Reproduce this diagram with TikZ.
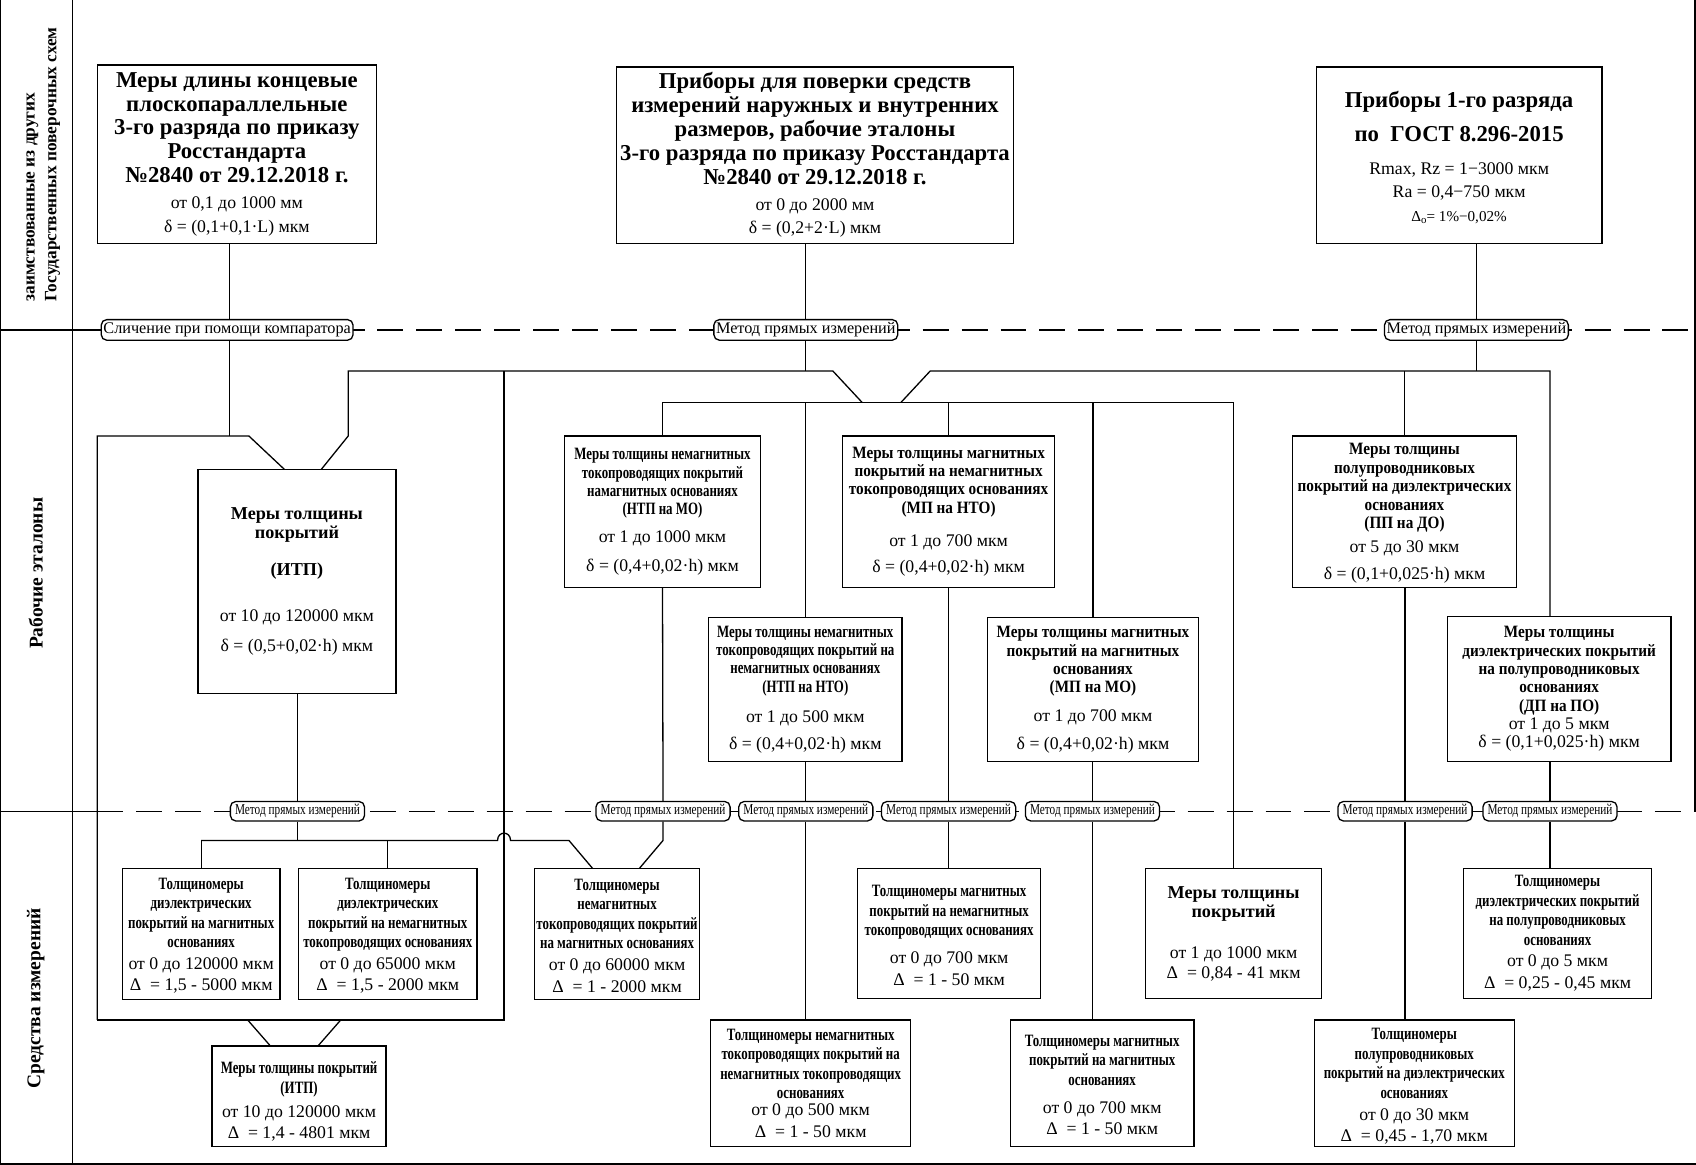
\documentclass[tikz,border=0pt]{standalone}
\usepackage{fontspec}
\setmainfont{Liberation Serif}
\newfontfamily\condf[FakeStretch=0.82]{Liberation Serif}
\newfontfamily\cnA[FakeStretch=0.745]{Liberation Serif}
\newfontfamily\cnB[FakeStretch=0.88]{Liberation Serif}
\newcommand\xHA[1]{{\bfseries\fontsize{10.5}{11}\selectfont #1}}
\newcommand\xNA[1]{{\fontsize{8.2}{11}\selectfont #1}}
\newcommand\xHM[1]{{\bfseries\fontsize{8.4}{10}\selectfont #1}}
\newcommand\xHS[1]{{\cnB\bfseries\fontsize{8}{9}\selectfont #1}}
\newcommand\xHN[1]{{\cnA\bfseries\fontsize{8}{9}\selectfont #1}}
\newcommand\xNS[1]{{\fontsize{8.2}{9}\selectfont #1}}
\begin{document}
\begin{tikzpicture}[x=0.5pt,y=-0.5pt,line width=0.6pt,
  box/.style={draw, inner sep=0pt},
  txt/.style={inner sep=0pt, align=center},
  lbl/.style={draw, fill=white, rounded corners=2.5pt, inner xsep=1pt, inner ysep=0pt, minimum height=9.5pt, font=\fontsize{7.5}{8}\selectfont},
  lbls/.style={lbl, minimum width=62pt, minimum height=9pt, font=\cnA\fontsize{7}{8}\selectfont},
  dsh/.style={dash pattern=on 12pt off 6pt},
  side/.style={rotate=90, font=\bfseries\fontsize{9}{10}\selectfont, align=left}]
\useasboundingbox (0,0) rectangle (1568,1077);
% frame
\draw (0.6,0) -- (0.6,1076) -- (1568,1076);
\draw (67,0) -- (67,1076);
\draw (1567,0) -- (1567,750);
\draw (0,305) -- (97,305);
\draw[dsh] (97,305) -- (1568,305);
\draw (0,750) -- (90,750);
\draw[dsh] (90,750) -- (1568,750);
% side titles
\node[side, font=\bfseries\fontsize{8}{10}\selectfont] (V1) at (40,152) {заимствованные из других\\Государственных поверочных схем};
\node[side] (V2) at (33,530) {Рабочие эталоны};
\node[side] (V3) at (33,923) {Средства измерений};
% top boxes
\node[box, minimum width=129pt, minimum height=82.5pt] (A) at (219,142.5) {};
\node[txt, font=\fontsize{10}{11}\selectfont] (At) at (A.center) {\xHA{Меры длины концевые}\\\xHA{плоскопараллельные}\\\xHA{3-го разряда по приказу}\\\xHA{Росстандарта}\\\xHA{№2840 от 29.12.2018 г.}\\[1pt]\xNA{от 0,1 до 1000 мм}\\\xNA{δ = (0,1+0,1·L) мкм}};
\node[box, minimum width=183.5pt, minimum height=81.5pt] (B) at (753.5,143.5) {};
\node[txt, font=\fontsize{10}{11}\selectfont] (Bt) at (B.center) {\xHA{Приборы для поверки средств}\\\xHA{измерений наружных и внутренних}\\\xHA{размеров, рабочие эталоны}\\\xHA{3-го разряда по приказу Росстандарта}\\\xHA{№2840 от 29.12.2018 г.}\\[1pt]\xNA{от 0 до 2000 мм}\\\xNA{δ = (0,2+2·L) мкм}};
\node[box, minimum width=132pt, minimum height=81.5pt] (C) at (1349,143.5) {};
\node[txt, font=\fontsize{10}{11}\selectfont] (Ct) at ([yshift=-1pt]C.center) {\xHA{Приборы 1-го разряда}\\[5pt]\xHA{по\ \ ГОСТ 8.296-2015}\\[4pt]\xNA{Rmax, Rz = 1−3000 мкм}\\\xNA{Ra = 0,4−750 мкм}\\{\fontsize{7}{8}\selectfont Δ\raisebox{-0.3ex}{\fontsize{5}{6}\selectfont o}= 1\%−0,02\%}};
% middle boxes
\node[box, minimum width=91.5pt, minimum height=103.5pt] (ITP) at (274.5,537.5) {};
\node[txt, font=\fontsize{9}{9}\selectfont] (ITPt) at (ITP.center) {\xHM{Меры толщины}\\\xHM{покрытий}\\[8pt]\xHM{(ИТП)}\\[12pt]\xNS{от 10 до 120000 мкм}\\[5pt]\xNS{δ = (0,5+0,02·h) мкм}};
\node[box, minimum width=90.5pt, minimum height=70pt] (NM) at (612.5,473) {};
\node[txt, font=\fontsize{8}{8.5}\selectfont] (NMt) at (NM.center) {\xHN{Меры толщины немагнитных}\\\xHN{токопроводящих покрытий}\\\xHN{намагнитных основаниях}\\\xHN{(НТП на МО)}\\[4.5pt]\xNS{от 1 до 1000 мкм}\\[4.5pt]\xNS{δ = (0,4+0,02·h) мкм}};
\node[box, minimum width=98pt, minimum height=70pt] (MN) at (877,473) {};
\node[txt, font=\fontsize{8}{8.5}\selectfont] (MNt) at (MN.center) {\xHS{Меры толщины магнитных}\\\xHS{покрытий на немагнитных}\\\xHS{токопроводящих основаниях}\\\xHS{(МП на НТО)}\\[7pt]\xNS{от 1 до 700 мкм}\\[3.5pt]\xNS{δ = (0,4+0,02·h) мкм}};
\node[box, minimum width=89.5pt, minimum height=66.5pt] (NN) at (744.5,637.5) {};
\node[txt, font=\fontsize{8}{8.5}\selectfont] (NNt) at (NN.center) {\xHN{Меры толщины немагнитных}\\\xHN{токопроводящих покрытий на}\\\xHN{немагнитных основаниях}\\\xHN{(НТП на НТО)}\\[5.5pt]\xNS{от 1 до 500 мкм}\\[4pt]\xNS{δ = (0,4+0,02·h) мкм}};
\node[box, minimum width=97.5pt, minimum height=66.5pt] (MM) at (1010.5,637.5) {};
\node[txt, font=\fontsize{8}{8.5}\selectfont] (MMt) at (MM.center) {\xHS{Меры толщины магнитных}\\\xHS{покрытий на магнитных}\\\xHS{основаниях}\\\xHS{(МП на МО)}\\[5pt]\xNS{от 1 до 700 мкм}\\[4pt]\xNS{δ = (0,4+0,02·h) мкм}};
\node[box, minimum width=103.5pt, minimum height=70pt] (PD) at (1298.5,473) {};
\node[txt, font=\fontsize{8}{8.5}\selectfont] (PDt) at ([yshift=-0.8pt]PD.center) {\xHS{Меры толщины}\\\xHS{полупроводниковых}\\\xHS{покрытий на диэлектрических}\\\xHS{основаниях}\\\xHS{(ПП на ДО)}\\[2.5pt]\xNS{от 5 до 30 мкм}\\[4pt]\xNS{δ = (0,1+0,025·h) мкм}};
\node[box, minimum width=103.5pt, minimum height=67pt] (DP) at (1441.5,637) {};
\node[txt, font=\fontsize{8}{8.5}\selectfont] (DPt) at (DP.center) {\xHS{Меры толщины}\\\xHS{диэлектрических покрытий}\\\xHS{на полупроводниковых}\\\xHS{основаниях}\\\xHS{(ДП на ПО)}\\\xNS{от 1 до 5 мкм}\\\xNS{δ = (0,1+0,025·h) мкм}};
% bottom boxes
\node[box, minimum width=73pt, minimum height=60.5pt] (T1) at (186,863.5) {};
\node[txt, font=\fontsize{8}{9}\selectfont] (T1t) at ([yshift=-0.8pt]T1.center) {\xHN{Толщиномеры}\\\xHN{диэлектрических}\\\xHN{покрытий на магнитных}\\\xHN{основаниях}\\[1pt]\xNS{от 0 до 120000 мкм}\\[1pt]\xNS{Δ\ \ = 1,5 - 5000 мкм}};
\node[box, minimum width=82.5pt, minimum height=60.5pt] (T2) at (358.5,863.5) {};
\node[txt, font=\fontsize{8}{9}\selectfont] (T2t) at ([yshift=-0.8pt]T2.center) {\xHN{Толщиномеры}\\\xHN{диэлектрических}\\\xHN{покрытий на немагнитных}\\\xHN{токопроводящих основаниях}\\[1pt]\xNS{от 0 до 65000 мкм}\\[1pt]\xNS{Δ\ \ = 1,5 - 2000 мкм}};
\node[box, minimum width=76.5pt, minimum height=60.5pt] (T3) at (570.5,863.5) {};
\node[txt, font=\fontsize{8}{9}\selectfont] (T3t) at ([yshift=-0.8pt]T3.center) {\xHN{Толщиномеры}\\\xHN{немагнитных}\\\xHN{токопроводящих покрытий}\\\xHN{на магнитных основаниях}\\[1pt]\xNS{от 0 до 60000 мкм}\\[1pt]\xNS{Δ\ \ = 1 - 2000 мкм}};
\node[box, minimum width=80.5pt, minimum height=46.5pt] (IB) at (276.5,1013.5) {};
\node[txt, font=\fontsize{8}{9}\selectfont] (IBt) at ([yshift=-2.5pt]IB.center) {\xHN{Меры толщины покрытий}\\\xHN{(ИТП)}\\[2pt]\xNS{от 10 до 120000 мкм}\\[1pt]\xNS{Δ\ \ = 1,4 - 4801 мкм}};
\node[box, minimum width=92.5pt, minimum height=58.5pt] (T5) at (749.5,1001.5) {};
\node[txt, font=\fontsize{8}{9}\selectfont] (T5t) at (T5.center) {\xHN{Толщиномеры немагнитных}\\\xHN{токопроводящих покрытий на}\\\xHN{немагнитных токопроводящих}\\\xHN{основаниях}\\[-1pt]\xNS{от 0 до 500 мкм}\\[1pt]\xNS{Δ\ \ = 1 - 50 мкм}};
\node[box, minimum width=84.5pt, minimum height=60pt] (T6) at (877.5,863) {};
\node[txt, font=\fontsize{8}{9}\selectfont] (T6t) at ([yshift=-1pt]T6.center) {\xHN{Толщиномеры магнитных}\\\xHN{покрытий на немагнитных}\\\xHN{токопроводящих основаниях}\\[4pt]\xNS{от 0 до 700 мкм}\\[1pt]\xNS{Δ\ \ = 1 - 50 мкм}};
\node[box, minimum width=85pt, minimum height=58.5pt] (T7) at (1019,1001.5) {};
\node[txt, font=\fontsize{8}{9}\selectfont] (T7t) at ([yshift=-0.8pt]T7.center) {\xHN{Толщиномеры магнитных}\\\xHN{покрытий на магнитных}\\\xHN{основаниях}\\[4pt]\xNS{от 0 до 700 мкм}\\[1pt]\xNS{Δ\ \ = 1 - 50 мкм}};
\node[box, minimum width=81.5pt, minimum height=60pt] (T8) at (1140.5,863) {};
\node[txt, font=\fontsize{9}{9}\selectfont] (T8t) at (T8.center) {\xHM{Меры толщины}\\\xHM{покрытий}\\[10pt]\xNS{от 1 до 1000 мкм}\\\xNS{Δ\ \ = 0,84 - 41 мкм}};
\node[box, minimum width=92.5pt, minimum height=58.5pt] (T9) at (1307.5,1001.5) {};
\node[txt, font=\fontsize{8}{9}\selectfont] (T9t) at ([yshift=-1.5pt]T9.center) {\xHN{Толщиномеры}\\\xHN{полупроводниковых}\\\xHN{покрытий на диэлектрических}\\\xHN{основаниях}\\[1pt]\xNS{от 0 до 30 мкм}\\[1pt]\xNS{Δ\ \ = 0,45 - 1,70 мкм}};
\node[box, minimum width=87pt, minimum height=60pt] (T10) at (1440,863) {};
\node[txt, font=\fontsize{8}{9}\selectfont] (T10t) at (T10.center) {\xHN{Толщиномеры}\\\xHN{диэлектрических покрытий}\\\xHN{на полупроводниковых}\\\xHN{основаниях}\\[1pt]\xNS{от 0 до 5 мкм}\\[1pt]\xNS{Δ\ \ = 0,25 - 0,45 мкм}};
% labels
\node[lbl, minimum width=112pt] (L1) at (210,305) {Сличение при помощи компаратора};
\node[lbl, minimum width=83pt] (L2) at (745,305) {Метод прямых измерений};
\node[lbl, minimum width=83pt] (L3) at (1365,305) {Метод прямых измерений};
\node[lbls] (M1) at (275,750) {Метод прямых измерений};
\node[lbls] (M2) at (613,750) {Метод прямых измерений};
\node[lbls] (M3) at (745,750) {Метод прямых измерений};
\node[lbls] (M4) at (877,750) {Метод прямых измерений};
\node[lbls] (M5) at (1010,750) {Метод прямых измерений};
\node[lbls] (M6) at (1299,750) {Метод прямых измерений};
\node[lbls] (M7) at (1433,750) {Метод прямых измерений};
% junction coordinates
\coordinate (a1) at (212,403);
\coordinate (q1) at (230,403);
\coordinate (q2) at (263,434);
\coordinate (q3) at (297,434);
\coordinate (q4) at (322,403);
\coordinate (q5) at (322,343);
\coordinate (q6) at (770,343);
\coordinate (q7) at (797,372);
\coordinate (q8) at (833,372);
\coordinate (q9) at (860,343);
\coordinate (q10) at (1433,343);
\coordinate (q11) at (613,372);
\coordinate (q12) at (1140,372);
\coordinate (q13) at (466,343);
\coordinate (q14) at (466,943);
\coordinate (q15) at (90,943);
\coordinate (q16) at (90,403);
\coordinate (r0) at (186,777);
\coordinate (r2) at (460,777);
\coordinate (r3) at (472,777);
\coordinate (r4) at (526,777);
\coordinate (r5) at (548,803);
\coordinate (r6) at (591,803);
\coordinate (s1) at (229,943);
\coordinate (s2) at (250,967);
\coordinate (s3) at (294,967);
\coordinate (s4) at (315,943);
% connectors top
\draw (A.south -| a1) -- (L1.north -| a1);
\draw (L1.south -| a1) -- (a1);
\draw (B.south -| L2) -- (L2.north);
\draw (L2.south) -- (L2 |- q6);
\draw (C.south -| L3) -- (L3.north);
\draw (L3.south) -- (L3 |- q10);
\draw (q15) -- (q16) -- (q1) -- (q2);
\draw (q3) -- (q4) -- (q5) -- (q6) -- (q7);
\draw (q8) -- (q9) -- (q10) -- (DP.north -| q10);
\draw (q13) -- (q14) -- (q15);
\draw (s1) -- (s2); \draw (s4) -- (s3);
\draw (q11) -- (q12);
\draw (NM.north) -- (NM.north |- q11);
\draw (MN.north) -- (MN.north |- q11);
\draw (NN.north) -- (NN.north |- q11);
\draw (MM.north) -- (MM.north |- q11);
\draw (T8.north) -- (T8.north |- q12);
\draw (PD.north) -- (PD.north |- q10);
% connectors bottom
\draw (ITP.south -| M1) -- (M1.north);
\draw (M1.south) -- (M1 |- r0);
\draw (r0) -- (r2) .. controls (460,768) and (472,768) .. (r3) -- (r4) -- (r5);
\draw (T1.north -| r0) -- (r0);
\draw (T2.north) -- (T2.north |- r0);
\draw (NM.south) -- (M2.north);
\draw (M2.south) -- (M2 |- r0) -- (r6);
\draw (NN.south -| M3) -- (M3.north);
\draw (M3.south) -- (M3 |- T5.north);
\draw (MN.south -| M4) -- (M4.north);
\draw (M4.south) -- (M4 |- T6.north);
\draw (MM.south -| M5) -- (M5.north);
\draw (M5.south) -- (M5 |- T7.north);
\draw (PD.south -| M6) -- (M6.north);
\draw (M6.south) -- (M6 |- T9.north);
\draw (DP.south -| M7) -- (M7.north);
\draw (M7.south) -- (M7 |- T10.north);
\end{tikzpicture}
\end{document}
